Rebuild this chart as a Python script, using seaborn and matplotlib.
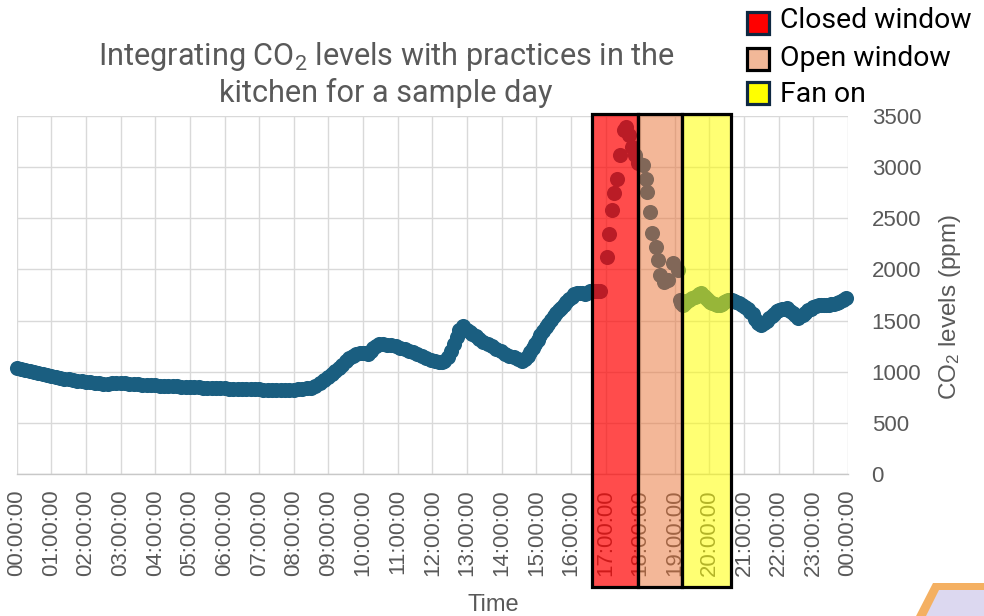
import numpy as np
import pandas as pd
import seaborn as sns
import matplotlib.pyplot as plt
from matplotlib.patches import Rectangle, Polygon
import matplotlib.transforms as mtransforms

# ---------------- data ----------------
# night, 00:00 - 09:00
hours_night = [0.000, 0.125, 0.250, 0.375, 0.500, 0.625, 0.750, 0.875,
               1.000, 1.125, 1.250, 1.375, 1.500, 1.625, 1.750, 1.875,
               2.000, 2.125, 2.250, 2.375, 2.500, 2.625, 2.750, 2.875,
               3.000, 3.125, 3.250, 3.375, 3.500, 3.625, 3.750, 3.875,
               4.000, 4.125, 4.250, 4.375, 4.500, 4.625, 4.750, 4.875,
               5.000, 5.125, 5.250, 5.375, 5.500, 5.625, 5.750, 5.875,
               6.000, 6.125, 6.250, 6.375, 6.500, 6.625, 6.750, 6.875,
               7.000, 7.125, 7.250, 7.375, 7.500, 7.625, 7.750, 7.875,
               8.000, 8.125, 8.250, 8.375, 8.500, 8.625, 8.750, 8.875]
co2_night = [1035, 1022, 1012, 1003, 995, 985, 975, 965,
             955, 947, 940, 932, 925, 918, 912, 907,
             902, 897, 893, 887, 880, 882, 885, 888,
             888, 885, 882, 879, 876, 873, 870, 868,
             866, 864, 862, 860, 858, 856, 854, 852,
             850, 848, 846, 844, 843, 841, 840, 838,
             837, 835, 834, 832, 831, 830, 829, 828,
             827, 826, 826, 825, 825, 825, 825, 825,
             826, 827, 830, 836, 845, 862, 885, 915]
# day, 09:00 - 16:55
hours_day = [9.00, 9.10, 9.20, 9.30, 9.40, 9.50, 9.60, 9.70, 9.80, 9.90,
             10.00, 10.08, 10.15, 10.22, 10.30, 10.38, 10.45, 10.57, 10.70, 10.82,
             10.95, 11.07, 11.20, 11.32, 11.45, 11.57, 11.70, 11.82, 11.95, 12.07,
             12.20, 12.28, 12.35, 12.45, 12.55, 12.62, 12.70, 12.78, 12.88, 13.00,
             13.08, 13.15, 13.25, 13.35, 13.47, 13.60, 13.72, 13.85, 13.97, 14.10,
             14.22, 14.35, 14.47, 14.60, 14.68, 14.75, 14.82, 14.90, 14.97, 15.05,
             15.12, 15.20, 15.27, 15.35, 15.42, 15.50, 15.57, 15.65, 15.72, 15.80,
             15.87, 15.95, 16.02, 16.10, 16.17, 16.25, 16.32, 16.40, 16.47, 16.55,
             16.62, 16.70, 16.77, 16.85]
co2_day = [950, 980, 1010, 1040, 1070, 1100, 1130, 1155, 1170, 1180,
           1185, 1180, 1175, 1200, 1230, 1255, 1270, 1268, 1265, 1258,
           1250, 1236, 1220, 1205, 1190, 1170, 1150, 1130, 1110, 1100,
           1095, 1098, 1105, 1140, 1200, 1270, 1340, 1410, 1445, 1410,
           1390, 1370, 1345, 1320, 1295, 1270, 1248, 1225, 1200, 1175,
           1158, 1140, 1122, 1105, 1125, 1150, 1190, 1230, 1270, 1310,
           1355, 1400, 1435, 1470, 1505, 1540, 1570, 1600, 1625, 1650,
           1680, 1710, 1735, 1760, 1768, 1770, 1765, 1760, 1772, 1785,
           1788, 1790, 1790, 1790]
# window events, 17:00 - 19:10
hours_event = [17.03, 17.10, 17.19, 17.25, 17.33, 17.43, 17.54, 17.60, 17.69, 17.77,
               17.84, 17.93, 18.08, 18.16, 18.20, 18.28, 18.35, 18.45, 18.52, 18.57,
               18.69, 18.81, 18.95, 19.09]
co2_event = [2125, 2343, 2581, 2750, 2884, 3119, 3363, 3396, 3314, 3200,
             3119, 3038, 3021, 2884, 2754, 2565, 2359, 2222, 2092, 1946,
             1880, 1897, 2060, 1994]
# evening, 19:10 - 24:00
hours_evening = [19.14, 19.19, 19.24, 19.30, 19.35, 19.42, 19.50, 19.57, 19.65, 19.71,
                 19.77, 19.84, 19.90, 19.96, 20.01, 20.08, 20.15, 20.22, 20.30, 20.36,
                 20.42, 20.48, 20.54, 20.60, 20.66, 20.72, 20.78, 20.86, 20.95, 21.02,
                 21.10, 21.17, 21.25, 21.32, 21.40, 21.45, 21.50, 21.57, 21.65, 21.72,
                 21.80, 21.87, 21.95, 22.02, 22.10, 22.17, 22.25, 22.32, 22.40, 22.47,
                 22.55, 22.62, 22.70, 22.77, 22.85, 22.92, 23.00, 23.07, 23.15, 23.22,
                 23.30, 23.37, 23.45, 23.52, 23.60, 23.67, 23.75, 23.85, 23.95]
co2_evening = [1701, 1675, 1652, 1670, 1690, 1705, 1720, 1732, 1745, 1756,
               1766, 1742, 1720, 1700, 1685, 1672, 1660, 1655, 1652, 1665,
               1680, 1692, 1701, 1701, 1700, 1692, 1685, 1668, 1650, 1630,
               1610, 1585, 1560, 1520, 1480, 1465, 1457, 1478, 1500, 1522,
               1545, 1568, 1590, 1603, 1615, 1618, 1620, 1598, 1575, 1552,
               1530, 1540, 1550, 1575, 1600, 1615, 1630, 1640, 1650, 1650,
               1650, 1652, 1655, 1660, 1665, 1675, 1685, 1700, 1718]

tick_hours = list(range(25))
tick_labels = ["00:00:00", "01:00:00", "02:00:00", "03:00:00", "04:00:00",
               "05:00:00", "06:00:00", "07:00:00", "08:00:00", "09:00:00",
               "10:00:00", "11:00:00", "12:00:00", "13:00:00", "14:00:00",
               "15:00:00", "16:00:00", "17:00:00", "18:00:00", "19:00:00",
               "20:00:00", "21:00:00", "22:00:00", "23:00:00", "00:00:00"]
y_ticks = [0, 500, 1000, 1500, 2000, 2500, 3000, 3500]

periods = ["Closed window", "Open window", "Fan on"]
period_start = [16.60, 17.95, 19.22]
period_end = [17.95, 19.22, 20.63]

# ---------------- style ----------------
W, H = 984, 616
blue = "#1A5E80"
gray_txt = "#595959"
period_fill = [(1.0, 0.0, 0.0, 0.70), (0.914, 0.443, 0.196, 0.50), (1.0, 1.0, 0.0, 0.55)]
legend_fill = ["#FF0000", "#F2B898", "#FFFF00"]
legend_edge = ["#0E2841", "#000000", "#0E2841"]
title_font = ["Roboto", "DejaVu Sans"]
axis_font = ["Liberation Sans", "DejaVu Sans"]

sns.set_theme(style="white")
plt.rcParams["font.family"] = axis_font

fig = plt.figure(figsize=(W / 100, H / 100), dpi=100)
ax_l, ax_r, ax_t, ax_b = 16.7, 848.0, 116.0, 474.0
ax = fig.add_axes([ax_l / W, 1 - ax_b / H, (ax_r - ax_l) / W, (ax_b - ax_t) / H])

df = pd.DataFrame({
    "hour": hours_night + hours_day + hours_event + hours_evening,
    "co2": co2_night + co2_day + co2_event + co2_evening,
})
sns.scatterplot(data=df, x="hour", y="co2", ax=ax, color=blue, s=118,
                linewidth=0, zorder=3, legend=False, clip_on=False)

ax.set_xlim(0, 24)
ax.set_ylim(0, 3500)
ax.set_xticks(tick_hours)
ax.set_xticklabels(tick_labels, rotation=90, fontsize=16, color=gray_txt)
ax.set_yticks(y_ticks)
ax.set_yticklabels([str(v) for v in y_ticks], fontsize=16, color=gray_txt, ha="left")
ax.yaxis.tick_right()
ax.yaxis.set_label_position("right")
ax.tick_params(axis="x", length=0, pad=11)
ax.tick_params(axis="y", length=0, pad=17)
ax.grid(True, color="#D9D9D9", linewidth=1.0)
ax.set_axisbelow(True)
for s in ["top", "left", "right"]:
    ax.spines[s].set_visible(False)
ax.spines["bottom"].set_color("#C8C8C8")
ax.spines["bottom"].set_linewidth(1.0)

ax.set_xlabel("Time", fontsize=17, color=gray_txt, va="baseline")
ax.xaxis.set_label_coords((493 - ax_l) / (ax_r - ax_l), (ax_b - 611) / (ax_b - ax_t))
ax.set_ylabel(r"CO$\mathregular{_2}$ levels (ppm)", fontsize=17.5, color=gray_txt,
              rotation=90, va="center", ha="center")
ax.yaxis.set_label_coords((950 - ax_l) / (ax_r - ax_l), (ax_b - 307) / (ax_b - ax_t))

# period rectangles (x in data, y in axes fraction, extending below the axis)
trans = mtransforms.blended_transform_factory(ax.transData, ax.transAxes)
y0 = (ax_b - 587) / (ax_b - ax_t)
y1 = (ax_b - 114) / (ax_b - ax_t)
for xs, xe, fc in zip(period_start, period_end, period_fill):
    r = Rectangle((xs, y0), xe - xs, y1 - y0, transform=trans, facecolor=fc,
                  edgecolor="black", linewidth=2.3, clip_on=False, zorder=5)
    ax.add_patch(r)

# title
renderer = fig.canvas.get_renderer()
title = fig.text(386 / W, 1 - 74 / H,
                 "Integrating CO$\\mathregular{_2}$ levels with practices in the\nkitchen for a sample day",
                 ha="center", va="center", fontsize=19, color=gray_txt,
                 family=title_font, linespacing=1.22, multialignment="center")
w = title.get_window_extent(renderer).width
title.set_fontsize(19 * 578 / w)

# legend (manual)
sq_centers = [22.5, 58.5, 92.5]
txt_centers = [20, 59, 95]
leg_texts = []
for lab, cy, ty, fc, ec in zip(periods, sq_centers, txt_centers, legend_fill, legend_edge):
    sq = 22
    p = Rectangle((746.5 / W, 1 - (cy + sq / 2) / H), sq / W, sq / H,
                  transform=fig.transFigure, facecolor=fc, edgecolor=ec,
                  linewidth=2.3, zorder=6)
    fig.patches.append(p)
    t = fig.text(780 / W, 1 - ty / H, lab, ha="left", va="center", fontsize=17,
                 color="black", family=title_font)
    leg_texts.append(t)
w0 = leg_texts[0].get_window_extent(renderer).width
for t in leg_texts:
    t.set_fontsize(17 * 192 / w0)

# decorative shape at bottom right
outer = [(933, 583), (990, 583), (990, 620), (914, 620)]
inner = [(939, 590), (990, 590), (990, 620), (924, 620)]
for pts, col in [(outer, "#F4B062"), (inner, "#DCD8F0")]:
    poly = Polygon([(x / W, 1 - y / H) for x, y in pts], closed=True,
                   transform=fig.transFigure, facecolor=col, edgecolor="none", zorder=1)
    fig.patches.append(poly)

fig.savefig("out.png", dpi=100)
